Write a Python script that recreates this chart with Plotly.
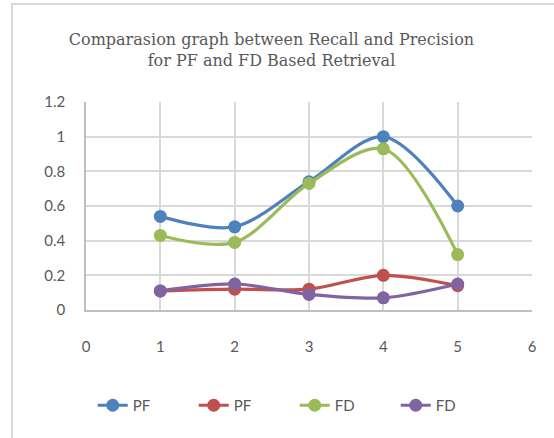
import plotly.graph_objects as go

x_vals = [1, 2, 3, 4, 5]
pf_recall = [0.54, 0.48, 0.74, 1.0, 0.60]
pf_precision = [0.11, 0.12, 0.12, 0.20, 0.14]
fd_recall = [0.43, 0.39, 0.73, 0.93, 0.32]
fd_precision = [0.11, 0.15, 0.09, 0.07, 0.15]

series_names = ["PF", "PF", "FD", "FD"]
series_colors = ["#4F81BD", "#C0504D", "#9BBB59", "#8064A2"]
series_values = [pf_recall, pf_precision, fd_recall, fd_precision]

title_text = "Comparasion graph between Recall and Precision<br>for PF and FD Based Retrieval"

fig = go.Figure()
for name, color, vals in zip(series_names, series_colors, series_values):
    fig.add_trace(go.Scatter(
        x=x_vals, y=vals, name=name, mode="lines+markers",
        line=dict(color=color, width=3.2, shape="spline", smoothing=0.9),
        marker=dict(color=color, size=13),
    ))

grid = "#D9D9D9"
tick_font = dict(family="Lato, Open Sans, sans-serif", size=15, color="#595959")

W, H = 554, 438
L, R, T, B = 86, 22, 102, 128
plot_w = W - L - R
plot_h = H - T - B

fig.update_layout(
    width=W, height=H,
    paper_bgcolor="white", plot_bgcolor="white",
    margin=dict(l=L, r=R, t=T, b=B, autoexpand=False),
    title=dict(text=title_text, x=0.49, xanchor="center", y=1 - 45 / H, yanchor="top",
               font=dict(family="DejaVu Serif, Liberation Serif, serif", size=16, color="#595959")),
    xaxis=dict(range=[0, 6], dtick=1, tick0=0, showgrid=True, gridcolor=grid, gridwidth=1.5,
               showline=True, linecolor="#BFBFBF", linewidth=1.5, mirror=False,
               zeroline=False, ticks="", tickfont=tick_font, ticklabelstandoff=22, fixedrange=True),
    yaxis=dict(range=[0, 1.2], dtick=0.2, tick0=0, showgrid=True, gridcolor=grid, gridwidth=1.5,
               showline=True, linecolor="#BFBFBF", linewidth=1.5,
               zeroline=False, ticks="", tickfont=tick_font, ticklabelstandoff=16, fixedrange=True),
    showlegend=True,
    legend=dict(orientation="h", x=0.468, xanchor="center", y=-79 / plot_h, yanchor="top",
                font=tick_font, entrywidth=56, entrywidthmode="pixels", traceorder="normal"),
    shapes=[dict(type="rect", xref="paper", yref="paper",
                 x0=-(L - 12) / plot_w, x1=1.2, y0=-0.8, y1=(H - 4 - B) / plot_h,
                 line=dict(color="#D9D9D9", width=2), fillcolor="rgba(0,0,0,0)", layer="below")],
)

fig.write_html("out.html", config={"displayModeBar": False},
               post_script="document.body.style.margin='0';document.body.style.overflow='hidden';")
